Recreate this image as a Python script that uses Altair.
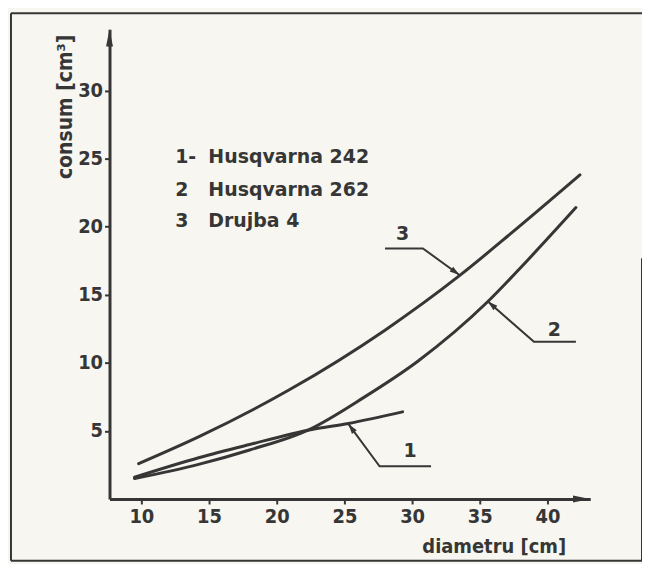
import math
import altair as alt
import pandas as pd

# ---------------- data ----------------
# curve 1 : Husqvarna 242
c1_x = [9.5, 14.3, 18.0, 22.6, 25.3, 29.3]
c1_y = [1.6, 3.05, 4.0, 5.1, 5.55, 6.4]
# curve 2 : Husqvarna 262
c2_x = [9.5, 14.3, 18.0, 22.4, 26.5, 30.4, 35.6, 38.5, 42.1]
c2_y = [1.5, 2.56, 3.6, 5.1, 7.5, 10.1, 14.5, 17.5, 21.4]
# curve 3 : Drujba 4
c3_x = [9.8, 14.3, 20.9, 28.0, 33.5, 37.3, 42.4]
c3_y = [2.6, 4.6, 8.0, 12.4, 16.4, 19.5, 23.8]

x_ticks = [10, 15, 20, 25, 30, 35, 40]
y_ticks = [5, 10, 15, 20, 25, 30]

legend_keys = ["1-", "2", "3"]
legend_names = ["Husqvarna 242", "Husqvarna 262", "Drujba 4"]

curve_labels = ["1", "2", "3"]

# ---------------- annotation geometry (data units) ----------------
X_DOM = [7.65, 43.16]
Y_DOM = [0, 34.5]
W, H = 483, 472

legend_x_key = 12.5
legend_x_name = 14.95
legend_y = [25.15, 22.66, 20.39]

leaders = {
    "1": [(31.4, 2.4), (27.6, 2.4), (25.3, 5.5)],
    "2": [(42.1, 11.55), (39.0, 11.55), (35.6, 14.5)],
    "3": [(28.0, 18.4), (30.8, 18.4), (33.5, 16.45)],
}
label_pos = {"1": (29.85, 3.5), "2": (40.5, 12.4), "3": (29.3, 19.45)}

INK = "#363636"
AXFONT = "Liberation Sans Narrow, DejaVu Sans Condensed, Arial Narrow, sans-serif"
FONT = "DejaVu Sans"
BG = "#f7f6f0"

# ---------------- tables ----------------
curves = pd.concat([
    pd.DataFrame({"x": c1_x, "y": c1_y, "s": "1"}),
    pd.DataFrame({"x": c2_x, "y": c2_y, "s": "2"}),
    pd.DataFrame({"x": c3_x, "y": c3_y, "s": "3"}),
], ignore_index=True)

lead_rows, tip_rows = [], []
sx = W / (X_DOM[1] - X_DOM[0])
sy = H / (Y_DOM[1] - Y_DOM[0])
for k, pts in leaders.items():
    for i, (px, py) in enumerate(pts):
        lead_rows.append({"x": px, "y": py, "s": k, "o": i})
    (ax, ay), (bx, by) = pts[-2], pts[-1]
    dx = (bx - ax) * sx
    dy = -(by - ay) * sy
    ang = math.degrees(math.atan2(dx, -dy)) % 360
    tip_rows.append({"x": bx, "y": by, "a": ang})
lead_df = pd.DataFrame(lead_rows)
tip_df = pd.DataFrame(tip_rows)

lab_df = pd.DataFrame({
    "x": [label_pos[k][0] for k in curve_labels],
    "y": [label_pos[k][1] for k in curve_labels],
    "t": curve_labels,
})

leg_df = pd.DataFrame({
    "k": legend_keys, "n": legend_names,
    "xk": [legend_x_key] * 3, "xn": [legend_x_name] * 3, "y": legend_y,
})

axis_arrows = pd.DataFrame({"x": [X_DOM[0], X_DOM[1]], "y": [Y_DOM[1], Y_DOM[0]], "a": [0, 90]})

# ---------------- scales and axes ----------------
xs = alt.Scale(domain=X_DOM, nice=False, zero=False)
ys = alt.Scale(domain=Y_DOM, nice=False, zero=False)

xaxis = alt.Axis(
    values=x_ticks, title="diametru [cm]", grid=False,
    domainColor=INK, domainWidth=3, tickColor=INK, tickWidth=2, tickSize=5,
    labelFont=AXFONT, labelFontSize=20, labelFontWeight="bold", labelColor=INK,
    labelPadding=3, labelFlush=False,
    titleFont=AXFONT, titleFontSize=20, titleFontWeight="bold", titleColor=INK,
    titleX=386, titleY=48, titleAlign="center", titleBaseline="middle",
)
yaxis = alt.Axis(
    values=y_ticks, title="consum [cm³]", grid=False,
    domainColor=INK, domainWidth=3, tickColor=INK, tickWidth=2, tickSize=5,
    labelFont=AXFONT, labelFontSize=20, labelFontWeight="bold", labelColor=INK,
    labelPadding=2, labelFlush=False,
    titleFont=AXFONT, titleFontSize=21, titleFontWeight="bold", titleColor=INK,
    titleAngle=270, titleX=-44, titleY=5, titleAlign="right", titleBaseline="middle",
)


def X(field="x"):
    return alt.X(f"{field}:Q", scale=xs, axis=xaxis)


def Y(field="y"):
    return alt.Y(f"{field}:Q", scale=ys, axis=yaxis)


curve_layer = alt.Chart(curves).mark_line(
    color=INK, strokeWidth=3, interpolate="monotone", strokeCap="round"
).encode(x=X(), y=Y(), detail="s:N")

lead_layer = alt.Chart(lead_df).mark_line(color=INK, strokeWidth=2).encode(
    x=X(), y=Y(), detail="s:N", order="o:Q"
)

ARROW = "M0,0L0.6,2L-0.6,2Z"
tip_layer = alt.Chart(tip_df).mark_point(
    shape=ARROW, filled=True, color=INK, opacity=1, size=100
).encode(x=X(), y=Y(), angle=alt.Angle("a:Q", scale=None))

AXARROW = "M0,0L0.4,2L-0.4,2Z"
axis_arrow_layer = alt.Chart(axis_arrows).mark_point(
    shape=AXARROW, filled=True, color=INK, opacity=1, size=300
).encode(x=X(), y=Y(), angle=alt.Angle("a:Q", scale=None))

lab_layer = alt.Chart(lab_df).mark_text(
    font=FONT, fontSize=19, fontWeight="bold", color=INK, align="center", baseline="middle"
).encode(x=X(), y=Y(), text="t:N")

leg_key_layer = alt.Chart(leg_df).mark_text(
    font=FONT, fontSize=19, fontWeight="bold", color=INK, align="left", baseline="middle"
).encode(x=X("xk"), y=Y(), text="k:N")

leg_name_layer = alt.Chart(leg_df).mark_text(
    font=FONT, fontSize=19, fontWeight="bold", color=INK, align="left", baseline="middle"
).encode(x=X("xn"), y=Y(), text="n:N")

one = pd.DataFrame({"d": [0]})
frame_kw = dict(color=INK, strokeWidth=2)
frame = [
    alt.Chart(one).mark_rule(**frame_kw).encode(x=alt.value(-99), x2=alt.value(535), y=alt.value(-16)),
    alt.Chart(one).mark_rule(**frame_kw).encode(x=alt.value(-99), x2=alt.value(535), y=alt.value(534)),
    alt.Chart(one).mark_rule(**frame_kw).encode(x=alt.value(-99), y=alt.value(-16), y2=alt.value(534)),
    alt.Chart(one).mark_rule(**frame_kw).encode(x=alt.value(535), y=alt.value(230), y2=alt.value(534)),
]

chart = alt.layer(
    curve_layer, lead_layer, tip_layer, axis_arrow_layer,
    lab_layer, leg_key_layer, leg_name_layer, *frame,
).properties(
    width=W, height=H,
    autosize=alt.AutoSizeParams(type="none"),
    padding={"left": 102, "top": 20, "right": 52, "bottom": 64},
    background=BG,
).configure_view(stroke=None)

chart.save("out.html", embed_options={"renderer": "svg", "actions": False})
